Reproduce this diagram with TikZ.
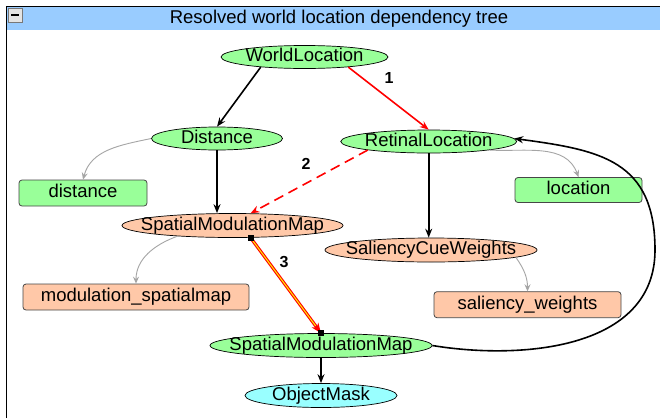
\documentclass[tikz,border=0pt]{standalone}
\usepackage{fontspec}
\setmainfont{Liberation Sans}
\usetikzlibrary{shapes.geometric,arrows.meta}
\definecolor{ngreen}{RGB}{153,255,153}
\definecolor{nsalmon}{RGB}{255,200,168}
\definecolor{ncyan}{RGB}{153,255,255}
\definecolor{hdrblue}{RGB}{153,204,255}
\definecolor{edgegray}{RGB}{165,165,165}
\definecolor{boxborder}{RGB}{70,70,70}
\begin{document}
\begin{tikzpicture}[x=1pt,y=-1pt,
  nfont/.style={font=\fontsize{18.5}{20}\selectfont,text height=13pt,text depth=3.5pt,inner sep=0pt},
  ell/.style={ellipse,draw=black,line width=0.7pt,inner sep=0pt},
  bx/.style={rectangle,rounded corners=3pt,draw=boxborder,line width=0.8pt,nfont},
  tip/.style={-{Stealth[length=9pt,width=7pt,inset=3pt]}},
  gtip/.style={-{Stealth[length=7pt,width=6pt,inset=2.5pt]}},
  blk/.style={tip,draw=black,line width=1.6pt},
  redl/.style={tip,draw=red,line width=1.6pt},
  gry/.style={gtip,draw=edgegray,line width=0.9pt},
  elab/.style={font=\fontsize{16}{18}\selectfont\bfseries},
  sq/.style={rectangle,fill=black,minimum size=6pt,inner sep=0pt}
]
\useasboundingbox (0,0) rectangle (660,418);
\fill[white] (0,0) rectangle (660,418);
% window frame and header
\fill[hdrblue] (6.5,6.5) rectangle (660,30);
\draw[black,line width=1pt] (6.5,418) -- (6.5,6) -- (660,6);
\node[font=\fontsize{18.5}{20}\selectfont] (title) at (339,18.5) {Resolved world location dependency tree};
\draw[fill={rgb,255:red,228;green,228;blue,228},draw={rgb,255:red,120;green,120;blue,120},line width=0.8pt] (8,8) rectangle (22,22);
\draw[black,line width=1.6pt] (11,15) -- (19,15);

% nodes
\node[ell,fill=ngreen,minimum width=167pt,minimum height=23pt,label={[nfont]center:WorldLocation}] (wl) at (304.5,57) {};
\node[ell,fill=ngreen,minimum width=131pt,minimum height=23pt,label={[nfont]center:Distance}] (dist) at (217,138.5) {};
\node[ell,fill=ngreen,minimum width=176pt,minimum height=23pt,label={[nfont]center:RetinalLocation}] (rl) at (428.7,141.5) {};
\node[bx,fill=ngreen,minimum width=128pt,minimum height=26pt] (dbox) at (83,193) {distance};
\node[bx,fill=ngreen,minimum width=127pt,minimum height=25pt] (lbox) at (578.5,190) {location};
\node[ell,fill=nsalmon,minimum width=221pt,minimum height=24pt,label={[nfont]center:SpatialModulationMap}] (smm1) at (232.5,225.5) {};
\node[ell,fill=nsalmon,minimum width=212pt,minimum height=24pt,label={[nfont]center:SaliencyCueWeights}] (scw) at (431,250) {};
\node[bx,fill=nsalmon,minimum width=226pt,minimum height=26pt] (mbox) at (136,297) {modulation\_spatialmap};
\node[bx,fill=nsalmon,minimum width=187pt,minimum height=26pt] (sbox) at (527.5,304.7) {saliency\_weights};
\node[ell,fill=ngreen,minimum width=222pt,minimum height=24pt,label={[nfont]center:SpatialModulationMap}] (smm2) at (321,345.5) {};
\node[ell,fill=ncyan,minimum width=152pt,minimum height=24pt,label={[nfont]center:ObjectMask}] (om) at (321,395.5) {};

% edges
\draw[blk] (wl.-167) -- (dist.north);
\draw[redl] (wl.-13) -- (rl.north);
\node[elab] (l1) at (389,78) {1};
\draw[blk] (dist.south) -- (dist.south |- smm1.north);
\draw[gry] (dist.west) to[out=192,in=75] (dbox.north);
\draw[redl,dash pattern=on 10pt off 6pt] (rl.-172) -- (smm1.34);
\node[elab] (l2) at (306,164) {2};
\draw[blk] (rl.south) -- (rl.south |- scw.north);
\draw[gry] (rl.-8) to[out=-3,in=110] (lbox.north);
\draw[gry] (smm1.-169) to[out=200,in=90] (mbox.north);
\draw[gry] (scw.-5) to[out=-55,in=90] (sbox.north);
% edge 3
\draw[red,line width=3.2pt,-{Stealth[length=10pt,width=8pt,inset=3pt]}] (smm1.-34) -- (smm2.north);
\draw[yellow,line width=1pt,shorten >=9pt] (smm1.-34) -- (smm2.north);
\node[sq] (s1) at (smm1.-34) {};
\node[sq] (s2) at (smm2.north) {};
\node[elab] (l3) at (284,262) {3};
\draw[blk] (smm2.south) -- (om.north);
% feedback edge
\draw[blk] (smm2.east) .. controls (520,360) and (655,350) .. (655,250)
  .. controls (655,160) and (600,150) .. (rl.2.5);
\end{tikzpicture}
\end{document}
